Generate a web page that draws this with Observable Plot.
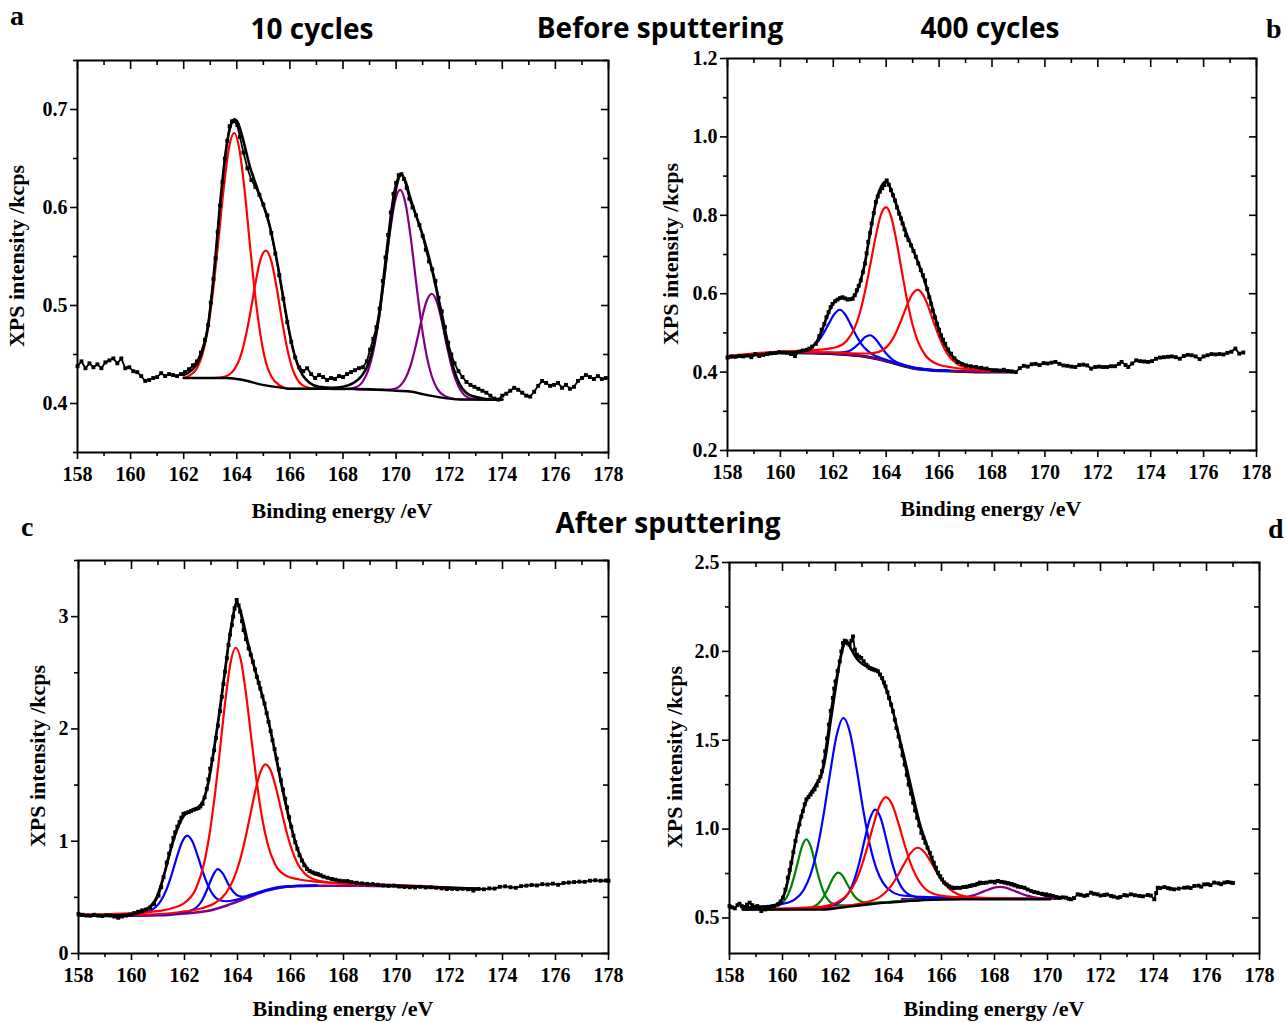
<!DOCTYPE html>
<html><head><meta charset="utf-8">
<script src="https://cdn.jsdelivr.net/npm/d3@7"></script>
<script src="https://cdn.jsdelivr.net/npm/@observablehq/plot@0.6"></script>
<style>
html,body{margin:0;padding:0;background:#fff;}
#page{position:relative;width:1286px;height:1023px;overflow:hidden;background:#fff;}
.t{position:absolute;white-space:nowrap;color:#000;text-align:center;}
.title{font-family:"Open Sans",sans-serif;font-weight:700;font-size:28px;line-height:34px;}
.letter{font-family:"Liberation Serif",serif;font-weight:700;font-size:28px;line-height:30px;text-align:left;}
.lab{font-family:"Liberation Serif",serif;font-weight:700;font-size:22px;line-height:24px;}
.plot{position:absolute;}
</style></head>
<body><div id="page"></div>
<script>
// ---------- tick values ----------
const xMajor = [158,160,162,164,166,168,170,172,174,176,178];
const xMinor = [159,161,163,165,167,169,171,173,175,177];
const aYMajor = [0.4,0.5,0.6,0.7], aYMinor = [0.35,0.45,0.55,0.65,0.75];
const bYMajor = [0.2,0.4,0.6,0.8,1.0,1.2], bYMinor = [0.3,0.5,0.7,0.9,1.1];
const cYMajor = [0,1,2,3], cYMinor = [0.5,1.5,2.5,3.5];
const dYMajor = [0.5,1.0,1.5,2.0,2.5], dYMinor = [0.75,1.25,1.75,2.25];

// ---------- panel a (10 cycles, before sputtering) ----------
const aData = [[158.0,.438],[158.15,.443],[158.3,.436],[158.45,.441],[158.6,.437],[158.75,.440],[158.9,.436],[159.05,.442],[159.2,.444],[159.35,.446],[159.5,.441],[159.65,.446],[159.8,.436],[159.95,.437],[160.1,.433],[160.25,.432],[160.4,.428],[160.55,.423],[160.7,.424],[160.85,.426],[161.0,.427],[161.15,.431],[161.3,.428],[161.45,.430],[161.6,.429],[161.75,.428],[161.9,.430],[162.05,.432],[162.2,.435],[162.35,.439],[162.5,.443],[162.65,.452],[162.8,.465],[162.92,.48],[163.02,.503],[163.12,.527],[163.2,.548],[163.28,.575],[163.37,.602],[163.46,.626],[163.55,.650],[163.64,.668],[163.73,.683],[163.82,.688],[163.92,.688],[164.02,.684],[164.12,.672],[164.25,.656],[164.4,.640],[164.55,.628],[164.7,.621],[164.85,.613],[165.0,.603],[165.15,.592],[165.3,.574],[165.45,.553],[165.6,.531],[165.75,.507],[165.9,.483],[166.05,.463],[166.2,.447],[166.35,.437],[166.5,.433],[166.65,.436],[166.8,.430],[166.95,.426],[167.1,.429],[167.25,.427],[167.4,.424],[167.55,.426],[167.7,.425],[167.85,.428],[168.0,.427],[168.15,.430],[168.3,.432],[168.45,.434],[168.6,.436],[168.75,.437],[168.9,.443],[169.02,.455],[169.14,.466],[169.26,.478],[169.38,.497],[169.5,.525],[169.6,.549],[169.7,.572],[169.8,.595],[169.9,.614],[170.0,.625],[170.1,.633],[170.2,.634],[170.3,.629],[170.4,.620],[170.5,.609],[170.62,.600],[170.75,.592],[170.88,.582],[171.0,.571],[171.12,.557],[171.24,.545],[171.36,.537],[171.48,.525],[171.6,.508],[171.72,.494],[171.84,.478],[171.96,.462],[172.08,.450],[172.2,.441],[172.35,.433],[172.5,.427],[172.65,.422],[172.8,.419],[172.95,.417],[173.1,.415],[173.25,.413],[173.4,.411],[173.55,.408],[173.7,.405],[173.85,.404],[174.0,.408],[174.15,.410],[174.3,.413],[174.45,.416],[174.6,.414],[174.75,.411],[174.9,.408],[175.05,.407],[175.2,.412],[175.35,.418],[175.5,.423],[175.65,.421],[175.8,.418],[175.95,.419],[176.1,.421],[176.25,.416],[176.4,.419],[176.55,.415],[176.7,.417],[176.85,.423],[177.0,.426],[177.15,.429],[177.3,.427],[177.45,.425],[177.6,.428],[177.75,.425],[177.9,.426]];
const aEnvelope = [[162.0,.429],[162.3,.434],[162.55,.443],[162.75,.458],[162.9,.476],[163.0,.497],[163.1,.522],[163.2,.551],[163.3,.582],[163.4,.612],[163.5,.638],[163.6,.660],[163.7,.676],[163.8,.686],[163.92,.690],[164.05,.686],[164.2,.673],[164.35,.657],[164.5,.641],[164.65,.629],[164.8,.617],[164.95,.606],[165.1,.594],[165.25,.580],[165.4,.561],[165.55,.540],[165.7,.516],[165.85,.492],[166.0,.470],[166.15,.452],[166.3,.439],[166.5,.428],[166.75,.421],[167.1,.417],[167.6,.416],[168.0,.417],[168.4,.421],[168.7,.428],[168.95,.440],[169.15,.459],[169.35,.488],[169.55,.529],[169.75,.575],[169.95,.612],[170.1,.630],[170.2,.634],[170.35,.627],[170.5,.613],[170.65,.600],[170.8,.588],[170.95,.576],[171.1,.563],[171.25,.548],[171.4,.531],[171.55,.512],[171.7,.491],[171.85,.470],[172.0,.452],[172.15,.437],[172.3,.425],[172.5,.415],[172.75,.409],[173.1,.406],[173.6,.404],[174.0,.404]];
const aBackground = [[162.0,.426],[163.6,.426],[164.0,.425],[164.4,.423],[164.8,.420],[165.2,.418],[165.6,.4165],[166.0,.415],[168.0,.415],[169.0,.4145],[170.0,.413],[170.6,.412],[171.0,.4095],[171.5,.407],[172.0,.405],[172.5,.404],[174.0,.404]];
const aRed1 = [[162.0,.426],[162.2,.4282],[162.5,.436],[162.7,.4496],[162.9,.4745],[163.1,.5135],[163.3,.5645],[163.5,.618],[163.7,.660],[163.9,.676],[164.1,.659],[164.3,.616],[164.5,.5605],[164.7,.5085],[164.9,.4685],[165.1,.4416],[165.3,.4275],[165.6,.4187],[166.0,.415],[167.0,.415]];
const aRed2 = [[162.0,.426],[163.1,.426],[163.4,.4265],[163.7,.4292],[163.9,.4346],[164.1,.4451],[164.3,.4643],[164.5,.491],[164.7,.5224],[164.9,.5478],[165.1,.556],[165.3,.5453],[165.5,.5184],[165.7,.485],[165.9,.4558],[166.1,.4351],[166.3,.4236],[166.5,.4182],[166.8,.4155],[167.1,.415],[168.0,.415]];
const aPurple1 = [[167.5,.415],[168.05,.4146],[168.45,.4163],[168.75,.4227],[168.95,.4337],[169.15,.4542],[169.35,.486],[169.55,.5276],[169.75,.5711],[169.95,.6053],[170.15,.618],[170.35,.6046],[170.55,.5696],[170.75,.5246],[170.95,.4818],[171.15,.4488],[171.35,.4273],[171.55,.4149],[171.85,.4073],[172.25,.4046],[173.5,.404]];
const aPurple2 = [[168.5,.4145],[169.65,.4141],[169.95,.415],[170.15,.4181],[170.35,.4254],[170.55,.4391],[170.75,.4599],[170.95,.4844],[171.15,.5046],[171.35,.512],[171.55,.5023],[171.75,.4804],[171.95,.4541],[172.15,.4319],[172.35,.4172],[172.55,.4091],[172.75,.4057],[173.05,.4042],[173.45,.404],[174.0,.404]];

// ---------- panel b (400 cycles, before sputtering) ----------
const bData = [[158.0,.437],[158.15,.440],[158.3,.439],[158.45,.441],[158.6,.440],[158.75,.442],[158.9,.438],[159.05,.446],[159.2,.441],[159.35,.444],[159.5,.446],[159.65,.448],[159.8,.449],[159.95,.451],[160.1,.450],[160.25,.449],[160.4,.446],[160.55,.441],[160.7,.452],[160.85,.455],[161.0,.457],[161.1,.460],[161.2,.465],[161.34,.472],[161.47,.492],[161.56,.508],[161.66,.523],[161.74,.540],[161.82,.553],[161.9,.566],[161.97,.574],[162.07,.581],[162.16,.585],[162.26,.589],[162.35,.591],[162.45,.588],[162.54,.585],[162.64,.586],[162.73,.587],[162.81,.596],[162.89,.609],[162.96,.620],[163.04,.634],[163.12,.655],[163.2,.677],[163.26,.703],[163.32,.732],[163.39,.755],[163.45,.779],[163.53,.806],[163.61,.834],[163.68,.848],[163.76,.860],[163.85,.869],[163.93,.877],[164.02,.889],[164.1,.878],[164.18,.864],[164.26,.851],[164.33,.838],[164.41,.820],[164.49,.804],[164.56,.792],[164.62,.779],[164.69,.764],[164.75,.749],[164.84,.737],[164.94,.723],[165.03,.709],[165.12,.694],[165.21,.677],[165.31,.660],[165.39,.647],[165.47,.634],[165.55,.612],[165.63,.591],[165.7,.574],[165.76,.557],[165.84,.540],[165.92,.523],[166.0,.508],[166.07,.494],[166.15,.483],[166.23,.472],[166.34,.458],[166.45,.447],[166.58,.435],[166.7,.426],[166.86,.421],[167.02,.417],[167.2,.415],[167.39,.413],[167.6,.411],[167.8,.409],[168.0,.405],[168.15,.405],[168.3,.404],[168.45,.406],[168.6,.403],[168.75,.402],[168.9,.400],[169.05,.410],[169.2,.416],[169.35,.414],[169.5,.420],[169.65,.421],[169.8,.418],[169.95,.423],[170.1,.422],[170.25,.424],[170.4,.426],[170.55,.421],[170.7,.417],[170.85,.416],[171.0,.414],[171.15,.413],[171.3,.418],[171.45,.419],[171.6,.417],[171.75,.409],[171.9,.413],[172.05,.414],[172.2,.413],[172.35,.413],[172.5,.415],[172.65,.415],[172.8,.421],[172.9,.426],[173.05,.418],[173.15,.413],[173.3,.422],[173.45,.430],[173.6,.428],[173.75,.427],[173.9,.426],[174.05,.428],[174.2,.434],[174.35,.437],[174.5,.438],[174.65,.439],[174.8,.440],[174.95,.438],[175.1,.434],[175.25,.441],[175.4,.444],[175.55,.443],[175.7,.440],[175.85,.433],[176.0,.440],[176.15,.443],[176.3,.446],[176.45,.445],[176.6,.446],[176.75,.445],[176.9,.449],[177.05,.452],[177.2,.460],[177.35,.447],[177.5,.450]];
const bEnvelope = [[158.0,.438],[159.0,.443],[160.0,.449],[160.6,.451],[161.0,.456],[161.2,.464],[161.4,.481],[161.55,.503],[161.7,.530],[161.85,.556],[162.0,.575],[162.15,.585],[162.3,.589],[162.45,.588],[162.6,.586],[162.75,.591],[162.9,.607],[163.05,.637],[163.2,.680],[163.35,.738],[163.5,.795],[163.65,.843],[163.8,.872],[163.95,.885],[164.05,.884],[164.2,.862],[164.35,.834],[164.5,.804],[164.65,.775],[164.8,.748],[164.95,.723],[165.1,.698],[165.25,.672],[165.4,.643],[165.55,.611],[165.7,.576],[165.85,.540],[166.0,.507],[166.15,.480],[166.3,.460],[166.5,.440],[166.7,.428],[167.0,.418],[167.4,.412],[167.8,.408],[168.2,.404],[168.7,.402]];
const bBackground = [[158.0,.438],[159.0,.444],[160.0,.450],[161.0,.449],[162.0,.447],[162.6,.444],[163.2,.440],[163.7,.433],[164.1,.426],[164.6,.417],[165.1,.409],[165.7,.405],[166.4,.403],[167.2,.401],[168.0,.400],[168.8,.400]];
const bBlue1 = [[158.0,.438],[158.95,.4447],[159.75,.4502],[160.35,.4525],[160.75,.4542],[161.05,.4591],[161.25,.4669],[161.45,.4804],[161.65,.5009],[161.85,.5262],[162.05,.549],[162.25,.559],[162.45,.547],[162.65,.5224],[162.85,.4954],[163.05,.4729],[163.25,.4574],[163.45,.4466],[163.75,.4372],[164.15,.428],[164.75,.4163],[165.55,.407],[166.4,.403]];
const bBlue2 = [[158.0,.438],[160.4,.4504],[161.1,.4497],[161.7,.4492],[162.1,.4492],[162.4,.4509],[162.6,.4539],[162.8,.4624],[163.0,.4748],[163.2,.489],[163.4,.494],[163.6,.484],[163.8,.4658],[164.0,.4474],[164.2,.4339],[164.4,.4249],[164.7,.4182],[165.1,.4102],[165.7,.4057],[166.4,.4034]];
const bRed1 = [[158.0,.441],[159.7,.4511],[160.7,.4542],[161.5,.4573],[162.1,.4634],[162.5,.4795],[162.8,.5115],[163.0,.5501],[163.2,.6061],[163.4,.6746],[163.6,.745],[163.8,.8014],[164.0,.821],[164.2,.7934],[164.4,.730],[164.6,.6536],[164.8,.5801],[165.0,.5201],[165.2,.4775],[165.5,.441],[165.9,.4214],[166.5,.4118],[167.3,.4062],[168.3,.4031]];
const bRed2 = [[158.0,.440],[160.9,.4506],[161.9,.4502],[162.7,.448],[163.3,.4474],[163.7,.4509],[164.0,.4631],[164.2,.4798],[164.4,.5049],[164.6,.538],[164.8,.5726],[165.0,.600],[165.2,.610],[165.4,.5965],[165.6,.5651],[165.8,.5265],[166.0,.4899],[166.2,.4598],[166.4,.4381],[166.7,.4199],[167.1,.4099],[167.7,.405],[168.5,.4027]];

// ---------- panel c (10 cycles, after sputtering) ----------
const cData = [[158.0,.351],[158.15,.345],[158.3,.338],[158.45,.336],[158.6,.345],[158.75,.337],[158.9,.333],[159.05,.340],[159.2,.338],[159.35,.329],[159.5,.318],[159.65,.330],[159.8,.338],[159.95,.347],[160.1,.360],[160.25,.372],[160.4,.384],[160.55,.392],[160.7,.408],[160.85,.440],[161.02,.515],[161.12,.59],[161.21,.679],[161.33,.81],[161.42,.89],[161.5,.96],[161.58,1.03],[161.65,1.08],[161.73,1.13],[161.81,1.17],[161.88,1.21],[161.96,1.244],[162.05,1.25],[162.15,1.259],[162.25,1.27],[162.34,1.28],[162.44,1.288],[162.53,1.295],[162.6,1.31],[162.68,1.333],[162.76,1.39],[162.84,1.467],[162.9,1.55],[162.97,1.646],[163.05,1.73],[163.12,1.81],[163.19,1.92],[163.26,2.03],[163.34,2.16],[163.41,2.286],[163.47,2.40],[163.53,2.51],[163.6,2.63],[163.66,2.747],[163.72,2.84],[163.79,2.926],[163.84,3.00],[163.89,3.074],[163.97,3.149],[164.04,3.10],[164.1,3.045],[164.17,2.96],[164.23,2.88],[164.32,2.80],[164.42,2.717],[164.5,2.66],[164.58,2.598],[164.66,2.53],[164.73,2.464],[164.8,2.41],[164.86,2.36],[164.94,2.29],[165.02,2.226],[165.1,2.14],[165.17,2.063],[165.25,1.98],[165.32,1.899],[165.4,1.82],[165.48,1.735],[165.56,1.64],[165.64,1.542],[165.72,1.46],[165.8,1.378],[165.87,1.30],[165.95,1.214],[166.03,1.13],[166.11,1.05],[166.18,.99],[166.26,.932],[166.34,.875],[166.43,.827],[166.52,.785],[166.62,.753],[166.72,.735],[166.83,.723],[166.93,.714],[167.03,.708],[167.14,.697],[167.25,.685],[167.4,.675],[167.56,.664],[167.7,.657],[167.85,.649],[168.0,.645],[168.15,.645],[168.3,.636],[168.5,.630],[168.7,.624],[168.9,.620],[169.1,.618],[169.3,.612],[169.5,.606],[169.7,.603],[169.9,.605],[170.1,.596],[170.3,.592],[170.5,.590],[170.7,.588],[170.9,.594],[171.1,.588],[171.3,.590],[171.5,.585],[171.7,.580],[171.9,.574],[172.1,.576],[172.3,.573],[172.5,.576],[172.7,.572],[172.9,.560],[173.1,.575],[173.3,.572],[173.5,.580],[173.7,.578],[173.9,.594],[174.1,.598],[174.3,.590],[174.5,.585],[174.7,.600],[174.9,.604],[175.1,.610],[175.3,.606],[175.5,.618],[175.7,.614],[175.9,.622],[176.1,.612],[176.3,.628],[176.5,.632],[176.7,.636],[176.9,.640],[177.1,.638],[177.3,.648],[177.5,.652],[177.7,.648],[177.9,.650],[178.0,.648]];
const cEnvelope = [[158.0,.340],[159.0,.338],[159.8,.342],[160.2,.357],[160.5,.385],[160.75,.43],[160.95,.50],[161.1,.60],[161.3,.76],[161.5,.94],[161.7,1.09],[161.9,1.20],[162.1,1.255],[162.3,1.275],[162.5,1.295],[162.7,1.36],[162.9,1.52],[163.1,1.80],[163.3,2.12],[163.5,2.47],[163.7,2.82],[163.85,3.03],[163.97,3.13],[164.1,3.06],[164.25,2.92],[164.4,2.76],[164.6,2.58],[164.8,2.41],[165.0,2.24],[165.2,2.04],[165.4,1.81],[165.6,1.57],[165.8,1.35],[166.0,1.15],[166.2,.98],[166.4,.85],[166.6,.77],[166.8,.72],[167.0,.70],[167.3,.68],[167.7,.655],[168.1,.64],[168.6,.625],[169.2,.612],[170.0,.603],[171.0,.595],[172.0,.586],[173.0,.578]];
const cBackground = [[158.0,.336],[160.0,.336],[161.0,.340],[161.5,.346],[162.0,.356],[162.5,.367],[163.0,.386],[163.3,.405],[163.6,.428],[163.9,.455],[164.2,.481],[164.5,.51],[164.8,.536],[165.1,.56],[165.4,.576],[165.8,.592],[166.3,.60],[167.0,.604],[168.0,.604],[169.0,.602],[170.0,.598],[171.0,.592],[172.0,.585],[173.0,.578]];
const cBlue1 = [[158.0,.337],[158.5,.3415],[159.7,.3485],[160.3,.3575],[160.6,.3723],[160.9,.411],[161.1,.4669],[161.3,.5589],[161.5,.692],[161.7,.8496],[161.9,.989],[162.1,1.050],[162.3,.997],[162.5,.8666],[162.7,.720],[162.9,.5979],[163.1,.5169],[163.3,.477],[163.6,.4653],[163.9,.4765],[164.5,.5225],[165.7,.5955],[167.0,.607]];
const cBlue2 = [[158.0,.3365],[160.25,.3381],[160.95,.3434],[161.55,.3531],[161.95,.3651],[162.25,.3823],[162.45,.4098],[162.65,.468],[162.85,.5676],[163.05,.6824],[163.25,.752],[163.45,.7104],[163.65,.6196],[163.85,.547],[164.05,.5118],[164.25,.5063],[164.55,.5254],[164.95,.5511],[165.55,.5864],[166.25,.6021],[167.0,.605]];
const cRed1 = [[158.0,.347],[158.43,.3476],[159.43,.3532],[160.73,.3711],[161.53,.4036],[162.03,.4562],[162.43,.5769],[162.73,.7941],[162.93,1.0424],[163.13,1.3809],[163.33,1.796],[163.53,2.229],[163.73,2.578],[163.93,2.723],[164.13,2.610],[164.33,2.297],[164.53,1.901],[164.73,1.519],[164.93,1.2064],[165.13,.9811],[165.43,.7889],[165.83,.6932],[166.33,.6586],[167.13,.6371],[168.43,.6212],[169.43,.6136],[171.0,.600]];
const cRed2 = [[158.0,.340],[159.55,.3417],[160.55,.3456],[161.85,.3694],[162.65,.4026],[163.15,.4497],[163.55,.5326],[163.85,.6629],[164.05,.7966],[164.25,.9785],[164.45,1.197],[164.65,1.4233],[164.85,1.6055],[165.05,1.685],[165.25,1.6315],[165.45,1.4763],[165.65,1.278],[165.85,1.0845],[166.05,.9246],[166.25,.8079],[166.55,.7076],[166.95,.6537],[167.45,.6326],[168.25,.6204],[169.55,.6096],[170.55,.6027],[172.0,.590]];

// ---------- panel d (400 cycles, after sputtering) ----------
const dData = [[158.0,.567],[158.1,.560],[158.2,.554],[158.3,.572],[158.38,.580],[158.47,.566],[158.57,.562],[158.66,.575],[158.76,.586],[158.86,.572],[158.95,.562],[159.05,.567],[159.13,.556],[159.2,.539],[159.35,.548],[159.51,.558],[159.67,.565],[159.83,.577],[159.93,.592],[160.02,.614],[160.11,.66],[160.2,.727],[160.27,.77],[160.33,.811],[160.41,.87],[160.49,.933],[160.57,.985],[160.64,1.026],[160.71,1.07],[160.77,1.101],[160.84,1.14],[160.9,1.167],[160.98,1.18],[161.06,1.195],[161.13,1.21],[161.21,1.223],[161.29,1.245],[161.36,1.27],[161.43,1.295],[161.49,1.326],[161.55,1.38],[161.61,1.438],[161.68,1.51],[161.75,1.588],[161.82,1.665],[161.9,1.738],[161.95,1.79],[162.0,1.831],[162.08,1.89],[162.16,1.944],[162.22,2.00],[162.28,2.047],[162.35,2.06],[162.41,2.056],[162.47,2.045],[162.53,2.037],[162.6,2.06],[162.66,2.084],[162.73,2.01],[162.81,1.981],[162.89,1.97],[162.97,1.963],[163.06,1.945],[163.16,1.925],[163.22,1.915],[163.29,1.906],[163.37,1.90],[163.44,1.897],[163.52,1.893],[163.6,1.888],[163.68,1.87],[163.76,1.85],[163.83,1.825],[163.89,1.803],[163.96,1.77],[164.02,1.738],[164.1,1.70],[164.17,1.663],[164.24,1.615],[164.3,1.569],[164.38,1.52],[164.46,1.466],[164.53,1.415],[164.61,1.363],[164.69,1.305],[164.76,1.251],[164.85,1.20],[164.93,1.148],[165.0,1.105],[165.08,1.064],[165.16,1.02],[165.24,.979],[165.32,.95],[165.39,.923],[165.47,.895],[165.56,.867],[165.63,.84],[165.71,.811],[165.79,.783],[165.87,.755],[165.95,.735],[166.02,.717],[166.1,.70],[166.19,.689],[166.28,.678],[166.37,.67],[166.48,.668],[166.59,.67],[166.7,.669],[166.82,.674],[166.95,.676],[167.07,.68],[167.16,.684],[167.26,.685],[167.35,.692],[167.45,.699],[167.58,.697],[167.7,.699],[167.85,.704],[168.01,.699],[168.13,.708],[168.25,.703],[168.38,.699],[168.5,.694],[168.63,.689],[168.75,.683],[168.88,.676],[169.0,.674],[169.13,.67],[169.25,.66],[169.38,.652],[169.5,.646],[169.63,.642],[169.8,.636],[169.95,.633],[170.08,.628],[170.2,.624],[170.33,.618],[170.45,.614],[170.58,.616],[170.7,.614],[170.8,.608],[170.89,.605],[171.0,.612],[171.14,.633],[171.25,.630],[171.39,.624],[171.5,.628],[171.64,.642],[171.75,.636],[171.89,.633],[172.0,.626],[172.15,.629],[172.25,.632],[172.4,.624],[172.5,.62],[172.65,.614],[172.75,.618],[172.9,.629],[173.0,.626],[173.15,.633],[173.3,.628],[173.46,.624],[173.6,.622],[173.78,.629],[173.9,.626],[174.03,.605],[174.1,.64],[174.16,.67],[174.25,.668],[174.41,.674],[174.55,.668],[174.65,.664],[174.78,.661],[174.95,.665],[175.16,.67],[175.3,.672],[175.4,.668],[175.54,.68],[175.7,.682],[175.8,.676],[175.91,.689],[176.05,.69],[176.15,.685],[176.29,.699],[176.45,.695],[176.55,.69],[176.68,.699],[176.8,.702],[176.93,.699],[177.0,.697]];
const dEnvelope = [[158.5,.558],[159.0,.560],[159.5,.566],[159.8,.578],[160.0,.61],[160.15,.675],[160.3,.78],[160.5,.94],[160.7,1.07],[160.9,1.16],[161.1,1.21],[161.3,1.26],[161.5,1.32],[161.65,1.43],[161.8,1.59],[162.0,1.79],[162.2,1.97],[162.35,2.045],[162.45,2.05],[162.6,2.01],[162.8,1.96],[163.0,1.93],[163.2,1.915],[163.4,1.905],[163.6,1.885],[163.8,1.83],[164.0,1.75],[164.2,1.645],[164.4,1.52],[164.6,1.40],[164.8,1.27],[165.0,1.14],[165.2,1.02],[165.4,.93],[165.6,.845],[165.8,.77],[166.0,.715],[166.2,.688],[166.5,.672],[166.8,.670],[167.1,.677],[167.4,.689],[167.7,.700],[168.0,.707],[168.3,.705],[168.6,.696],[168.9,.681],[169.2,.664],[169.5,.646],[169.8,.631],[170.1,.620]];
const dBackground = [[158.5,.547],[161.4,.547],[162.0,.554],[162.6,.565],[163.3,.577],[163.9,.586],[164.5,.592],[165.2,.599],[166.0,.603],[166.8,.605],[170.1,.605]];
const dGreen1 = [[158.5,.5505],[158.9,.5525],[159.4,.5565],[159.75,.5646],[160.0,.585],[160.15,.6143],[160.3,.6646],[160.45,.739],[160.6,.8282],[160.75,.9084],[160.9,.942],[161.05,.9084],[161.2,.8282],[161.35,.739],[161.5,.6653],[161.65,.6164],[161.8,.5891],[162.05,.5726],[162.4,.5705],[162.9,.5755],[163.7,.5859],[165.0,.600]];
const dGreen2 = [[158.5,.548],[159.3,.5485],[160.1,.5498],[160.6,.5518],[160.95,.5559],[161.2,.5662],[161.35,.5809],[161.5,.6069],[161.65,.6458],[161.8,.6928],[161.95,.7356],[162.1,.755],[162.25,.7411],[162.4,.7027],[162.55,.6607],[162.7,.6252],[162.85,.6029],[163.0,.5912],[163.25,.5849],[163.6,.5858],[164.1,.5908],[164.9,.5975],[166.0,.604]];
const dBlue1 = [[158.5,.5575],[159.3,.5662],[160.0,.5788],[160.45,.6031],[160.8,.6577],[161.05,.7406],[161.3,.879],[161.55,1.080],[161.8,1.3192],[162.05,1.5318],[162.3,1.625],[162.55,1.5408],[162.8,1.3372],[163.05,1.105],[163.3,.909],[163.55,.7746],[163.8,.6957],[164.15,.6451],[164.6,.6248],[165.3,.6182],[166.3,.6149],[167.8,.6109],[170.0,.608]];
const dBlue2 = [[158.5,.549],[160.1,.5512],[161.0,.5546],[161.6,.5619],[162.0,.5761],[162.3,.605],[162.5,.6417],[162.7,.7098],[162.9,.8117],[163.1,.9401],[163.3,1.0584],[163.5,1.110],[163.7,1.0644],[163.9,.9526],[164.1,.8297],[164.3,.7328],[164.5,.6707],[164.7,.638],[165.0,.6191],[165.4,.6129],[166.0,.6106],[166.9,.6092],[170.0,.607]];
const dRed1 = [[158.5,.551],[159.9,.5529],[160.9,.5577],[161.6,.5668],[162.05,.5865],[162.4,.6238],[162.65,.6741],[162.9,.7553],[163.15,.872],[163.4,1.0069],[163.65,1.1273],[163.9,1.180],[164.15,1.1343],[164.4,1.0199],[164.65,.891],[164.9,.7813],[165.15,.7071],[165.4,.6618],[165.75,.6335],[166.2,.6218],[166.9,.6157],[167.9,.6109],[169.4,.6083],[170.0,.607]];
const dRed2 = [[158.5,.549],[161.1,.550],[162.1,.5613],[162.8,.5769],[163.25,.5917],[163.6,.6118],[163.85,.6389],[164.1,.6804],[164.35,.739],[164.6,.8067],[164.85,.8677],[165.1,.895],[165.35,.8717],[165.6,.8147],[165.85,.750],[166.1,.6954],[166.35,.6579],[166.6,.6348],[166.95,.6207],[167.4,.6139],[168.1,.6103],[169.1,.608],[170.0,.607]];
const dPurple = [[164.5,.6055],[165.2,.6063],[165.9,.6071],[166.35,.6087],[166.7,.6123],[166.95,.6177],[167.2,.6268],[167.45,.640],[167.7,.6555],[167.95,.6693],[168.2,.675],[168.45,.6693],[168.7,.6555],[168.95,.640],[169.2,.6268],[169.45,.6177],[169.7,.6123],[170.05,.6087],[170.5,.6071]];

// ---------- colours ----------
const RED = "#ff0000", BLUE = "#0000ff", PURPLE = "#800080", GREEN = "#008000", BLACK = "#000000";

const page = document.getElementById("page");

function panel(cfg) {
  const {left, top, width, height, ml, mr, mt, mb, yDomain, yMajor, yMinor, yFmt, curves, data} = cfg;
  const innerW = width - ml - mr, innerH = height - mt - mb;
  const X = d => d[0], Y = d => d[1];
  const marks = [];
  for (const c of curves) {
    marks.push(Plot.line(c.pts, {x: X, y: Y, stroke: c.color, strokeWidth: c.w || 2.2, curve: "monotone-x"}));
  }
  marks.push(Plot.line(data, {x: X, y: Y, stroke: BLACK, strokeWidth: 1.8}));
  marks.push(Plot.dot(data, {x: X, y: Y, symbol: "square", r: 2.2, fill: BLACK, stroke: null}));
  // bottom axis (outward ticks)
  marks.push(Plot.axisX(xMajor, {anchor: "bottom", tickSize: 7, tickPadding: 7, strokeWidth: 1.6, fontSize: 20, fontWeight: "bold", tickFormat: d => String(d), label: null}));
  marks.push(Plot.axisX(xMinor, {anchor: "bottom", tickSize: 4, strokeWidth: 1.6, tickFormat: () => "", label: null}));
  // left axis (outward ticks)
  marks.push(Plot.axisY(yMajor, {anchor: "left", tickSize: 7, tickPadding: 3, strokeWidth: 1.6, fontSize: 20, fontWeight: "bold", tickFormat: yFmt, label: null}));
  marks.push(Plot.axisY(yMinor, {anchor: "left", tickSize: 4, strokeWidth: 1.6, tickFormat: () => "", label: null}));
  // top mirror ticks (inward)
  marks.push(Plot.tickX(xMajor, {x: d => d, insetBottom: innerH - 9, stroke: BLACK, strokeWidth: 1.6}));
  marks.push(Plot.tickX(xMinor, {x: d => d, insetBottom: innerH - 5, stroke: BLACK, strokeWidth: 1.6}));
  // right mirror ticks (inward)
  marks.push(Plot.tickY(yMajor, {y: d => d, insetLeft: innerW - 7, stroke: BLACK, strokeWidth: 1.6}));
  marks.push(Plot.tickY(yMinor, {y: d => d, insetLeft: innerW - 5, stroke: BLACK, strokeWidth: 1.6}));
  marks.push(Plot.frame({stroke: BLACK, strokeWidth: 2}));
  const svg = Plot.plot({
    width, height, marginLeft: ml, marginRight: mr, marginTop: mt, marginBottom: mb,
    x: {domain: [158, 178], axis: null},
    y: {domain: yDomain, axis: null},
    style: {fontFamily: "'Liberation Serif', serif", fontWeight: "bold", fontSize: "20px", color: "#000", background: "transparent", overflow: "visible"},
    marks
  });
  const wrap = document.createElement("div");
  wrap.className = "plot";
  wrap.style.left = left + "px";
  wrap.style.top = top + "px";
  wrap.appendChild(svg);
  page.appendChild(wrap);
}

const f1 = d3.format(".1f");

panel({left: 0, top: 0, width: 640, height: 530, ml: 77, mr: 32, mt: 60, mb: 78,
  yDomain: [0.35, 0.75], yMajor: aYMajor, yMinor: aYMinor, yFmt: f1, data: aData,
  curves: [
    {pts: aRed1, color: RED}, {pts: aRed2, color: RED},
    {pts: aPurple1, color: PURPLE}, {pts: aPurple2, color: PURPLE},
    {pts: aBackground, color: BLACK, w: 2.4},
    {pts: aEnvelope, color: BLACK, w: 2.6}
  ]});

panel({left: 643, top: 0, width: 643, height: 530, ml: 84, mr: 30, mt: 58, mb: 80,
  yDomain: [0.2, 1.2], yMajor: bYMajor, yMinor: bYMinor, yFmt: f1, data: bData,
  curves: [
    {pts: bBackground, color: BLACK, w: 3},
    {pts: bBackground, color: PURPLE, w: 2},
    {pts: bBlue1, color: BLUE}, {pts: bBlue2, color: BLUE},
    {pts: bRed1, color: RED}, {pts: bRed2, color: RED},
    {pts: bEnvelope, color: BLACK, w: 2.6}
  ]});

panel({left: 0, top: 530, width: 640, height: 493, ml: 78, mr: 32, mt: 30, mb: 70,
  yDomain: [0, 3.5], yMajor: cYMajor, yMinor: cYMinor, yFmt: d3.format("d"), data: cData,
  curves: [
    {pts: cBackground, color: PURPLE, w: 2.6},
    {pts: cBlue1, color: BLUE}, {pts: cBlue2, color: BLUE},
    {pts: cRed1, color: RED}, {pts: cRed2, color: RED},
    {pts: cEnvelope, color: BLACK, w: 2.6}
  ]});

panel({left: 643, top: 530, width: 643, height: 493, ml: 86, mr: 27, mt: 32, mb: 70,
  yDomain: [0.3, 2.5], yMajor: dYMajor, yMinor: dYMinor, yFmt: f1, data: dData,
  curves: [
    {pts: dPurple, color: PURPLE},
    {pts: dGreen1, color: GREEN}, {pts: dGreen2, color: GREEN},
    {pts: dBlue1, color: BLUE}, {pts: dBlue2, color: BLUE},
    {pts: dRed1, color: RED}, {pts: dRed2, color: RED},
    {pts: dBackground, color: BLACK, w: 2.4},
    {pts: dEnvelope, color: BLACK, w: 2.6}
  ]});

// ---------- texts ----------
function text(str, cls, cx, cy, w, lh, rotate) {
  const el = document.createElement("div");
  el.className = "t " + cls;
  el.textContent = str;
  el.style.width = w + "px";
  el.style.left = (cx - w / 2) + "px";
  el.style.top = (cy - lh / 2) + "px";
  if (rotate) { el.style.transform = "rotate(-90deg)"; el.style.transformOrigin = "50% 50%"; }
  page.appendChild(el);
}
function letter(str, x, y) {
  const el = document.createElement("div");
  el.className = "t letter";
  el.textContent = str;
  el.style.left = x + "px";
  el.style.top = y + "px";
  page.appendChild(el);
}
const titles = ["10 cycles", "Before sputtering", "400 cycles", "After sputtering"];
text(titles[0], "title", 312, 28, 300, 34);
text(titles[1], "title", 660, 27, 360, 34);
text(titles[2], "title", 990, 27, 300, 34);
text(titles[3], "title", 668, 522, 360, 34);

const xLabel = "Binding energy /eV", yLabel = "XPS intensity /kcps";
text(xLabel, "lab", 342, 511, 300, 24);
text(xLabel, "lab", 991, 509, 300, 24);
text(xLabel, "lab", 343, 1009, 300, 24);
text(xLabel, "lab", 994, 1009, 300, 24);
text(yLabel, "lab", 17, 256, 300, 24, true);
text(yLabel, "lab", 671, 254, 300, 24, true);
text(yLabel, "lab", 38, 756, 300, 24, true);
text(yLabel, "lab", 675, 757, 300, 24, true);

letter("a", 10, 1);
letter("b", 1266, 14);
letter("c", 21, 512);
letter("d", 1268, 514);
</script></body></html>
